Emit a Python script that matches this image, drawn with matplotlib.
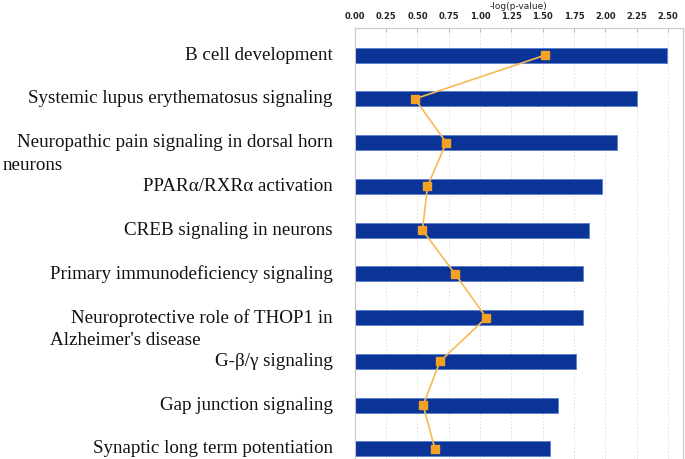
import matplotlib
matplotlib.use("Agg")
import matplotlib.pyplot as plt
import matplotlib.transforms as mtransforms

pathways = ["B cell development",
            "Systemic lupus erythematosus signaling",
            "Neuropathic pain signaling in dorsal horn",
            "PPAR\u03b1/RXR\u03b1 activation",
            "CREB signaling in neurons",
            "Primary immunodeficiency signaling",
            "Neuroprotective role of THOP1 in",
            "G-\u03b2/\u03b3 signaling",
            "Gap junction signaling",
            "Synaptic long term potentiation"]
# second lines of the wrapped labels
second_lines = {2: "neurons", 6: "Alzheimer's disease"}
second_x = {2: 0.003, 6: 0.073}

neg_log_p = [2.495, 2.256, 2.09, 1.97, 1.87, 1.825, 1.825, 1.77, 1.62, 1.56]
ratio = [1.52, 0.48, 0.73, 0.58, 0.54, 0.80, 1.05, 0.68, 0.545, 0.64]
ticks = [0.0, 0.25, 0.5, 0.75, 1.0, 1.25, 1.5, 1.75, 2.0, 2.25, 2.5]

fig = plt.figure(figsize=(6.85, 4.59), dpi=100)
ax = fig.add_axes([0.518, 0.0, 0.479, 0.939])

ypos = list(range(len(pathways)))
ax.barh(ypos, neg_log_p, height=0.34, color="#0a3596", edgecolor="#5b7fd0",
        linewidth=0.6, zorder=2)
ax.plot(ratio, ypos, color="#f7b955", linewidth=1.2, marker="s", markersize=6,
        markerfacecolor="#f5a31e", markeredgecolor="#f0a030", zorder=3)

ax.set_xlim(0, 2.62)
ax.set_ylim(9.23, -0.62)
ax.set_xticks(ticks)
ax.set_xticklabels(["%.2f" % t for t in ticks])
ax.xaxis.tick_top()
ax.xaxis.set_label_position("top")
ax.set_xlabel("-log(p-value)", fontsize=6.5, color="#222222", labelpad=2)
ax.tick_params(axis="x", direction="in", length=3, color="#bbbbbb",
               labelsize=6, pad=5, labelcolor="#222222")
for lab in ax.get_xticklabels():
    lab.set_fontweight("bold")
ax.set_yticks([])
ax.grid(axis="x", linestyle=(0, (1.5, 2)), color="#dddddd", linewidth=0.7, zorder=0)

for side in ["left", "top", "right"]:
    ax.spines[side].set_color("#c8c8c8")
ax.spines["bottom"].set_visible(False)

trans = mtransforms.blended_transform_factory(fig.transFigure, ax.transData)
for i, name in enumerate(pathways):
    ax.text(0.486, ypos[i], name, transform=trans, ha="right", va="center",
            fontsize=13.7, family="Liberation Serif", color="#111111")
    if i in second_lines:
        ax.text(second_x[i], ypos[i] + 0.52, second_lines[i], transform=trans,
                ha="left", va="center", fontsize=13.7, family="Liberation Serif",
                color="#111111")

fig.savefig("out.png", dpi=100)
